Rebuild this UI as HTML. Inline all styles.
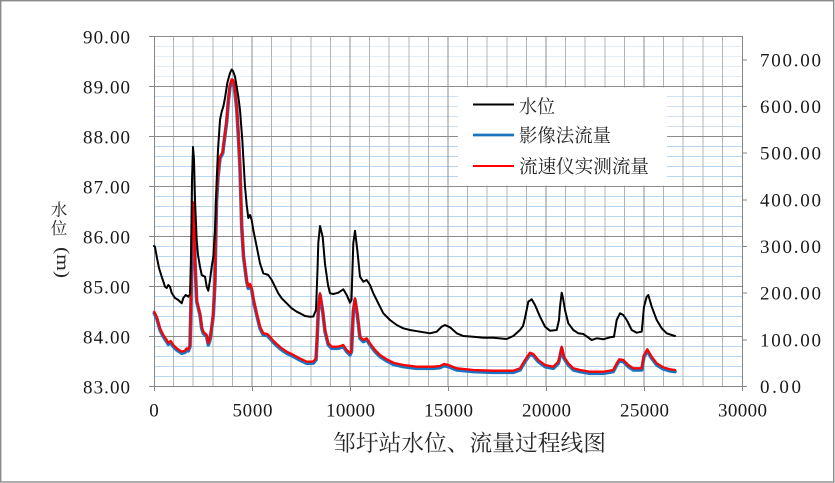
<!DOCTYPE html>
<html>
<head>
<meta charset="utf-8">
<style>
html,body{margin:0;padding:0;background:#fff;}
svg{display:block;}
.tl{font-family:"Liberation Serif","Noto Serif CJK SC",serif;font-size:19px;fill:#1a1a1a;}
.cj{font-family:"Liberation Serif","Noto Serif CJK SC",serif;fill:#262626;}
</style>
</head>
<body>
<svg width="835" height="483" viewBox="0 0 835 483" xmlns="http://www.w3.org/2000/svg">
<rect x="0" y="0" width="835" height="483" fill="#fff"/>
<rect x="0.7" y="0.7" width="833" height="481.3" fill="none" stroke="#8a8a8a" stroke-width="1.4"/>

<!-- minor horizontal grid (light blue) -->
<g stroke-width="1" shape-rendering="crispEdges">
<g stroke="#e3edf8">
<line x1="154" y1="46.5" x2="742" y2="46.5"/><line x1="154" y1="56.5" x2="742" y2="56.5"/><line x1="154" y1="66.5" x2="742" y2="66.5"/><line x1="154" y1="76.5" x2="742" y2="76.5"/>
</g>
<g stroke="#cfe1f2">
<line x1="154" y1="96.5" x2="742" y2="96.5"/><line x1="154" y1="106.5" x2="742" y2="106.5"/><line x1="154" y1="116.5" x2="742" y2="116.5"/><line x1="154" y1="126.5" x2="742" y2="126.5"/>
</g>
<g stroke="#b8d6f0">
<line x1="154" y1="146.5" x2="742" y2="146.5"/><line x1="154" y1="156.5" x2="742" y2="156.5"/><line x1="154" y1="166.5" x2="742" y2="166.5"/><line x1="154" y1="176.5" x2="742" y2="176.5"/>
<line x1="154" y1="196.5" x2="742" y2="196.5"/><line x1="154" y1="206.5" x2="742" y2="206.5"/><line x1="154" y1="216.5" x2="742" y2="216.5"/><line x1="154" y1="226.5" x2="742" y2="226.5"/>
<line x1="154" y1="246.5" x2="742" y2="246.5"/><line x1="154" y1="256.5" x2="742" y2="256.5"/><line x1="154" y1="266.5" x2="742" y2="266.5"/><line x1="154" y1="276.5" x2="742" y2="276.5"/>
<line x1="154" y1="296.5" x2="742" y2="296.5"/><line x1="154" y1="306.5" x2="742" y2="306.5"/><line x1="154" y1="316.5" x2="742" y2="316.5"/><line x1="154" y1="326.5" x2="742" y2="326.5"/>
<line x1="154" y1="346.5" x2="742" y2="346.5"/><line x1="154" y1="356.5" x2="742" y2="356.5"/><line x1="154" y1="366.5" x2="742" y2="366.5"/><line x1="154" y1="376.5" x2="742" y2="376.5"/>
</g>
</g>

<!-- vertical grid -->
<g stroke-width="1" shape-rendering="crispEdges">
<g stroke="#b4b4b4">
<line x1="173.6" y1="36" x2="173.6" y2="386"/><line x1="193.2" y1="36" x2="193.2" y2="386"/><line x1="212.8" y1="36" x2="212.8" y2="386"/><line x1="232.4" y1="36" x2="232.4" y2="386"/>
<line x1="271.6" y1="36" x2="271.6" y2="386"/><line x1="291.2" y1="36" x2="291.2" y2="386"/><line x1="310.8" y1="36" x2="310.8" y2="386"/><line x1="330.4" y1="36" x2="330.4" y2="386"/>
<line x1="369.6" y1="36" x2="369.6" y2="386"/><line x1="389.2" y1="36" x2="389.2" y2="386"/><line x1="408.8" y1="36" x2="408.8" y2="386"/><line x1="428.4" y1="36" x2="428.4" y2="386"/>
<line x1="467.6" y1="36" x2="467.6" y2="386"/><line x1="487.2" y1="36" x2="487.2" y2="386"/><line x1="506.8" y1="36" x2="506.8" y2="386"/><line x1="526.4" y1="36" x2="526.4" y2="386"/>
<line x1="565.6" y1="36" x2="565.6" y2="386"/><line x1="585.2" y1="36" x2="585.2" y2="386"/><line x1="604.8" y1="36" x2="604.8" y2="386"/><line x1="624.4" y1="36" x2="624.4" y2="386"/>
<line x1="663.6" y1="36" x2="663.6" y2="386"/><line x1="683.2" y1="36" x2="683.2" y2="386"/><line x1="702.8" y1="36" x2="702.8" y2="386"/><line x1="722.4" y1="36" x2="722.4" y2="386"/>
</g>
<g stroke="#8c8c8c">
<line x1="252" y1="36" x2="252" y2="386"/><line x1="350" y1="36" x2="350" y2="386"/><line x1="448" y1="36" x2="448" y2="386"/><line x1="546" y1="36" x2="546" y2="386"/><line x1="644" y1="36" x2="644" y2="386"/>
</g>
</g>

<!-- major horizontal grid -->
<g stroke="#8c8c8c" stroke-width="1" shape-rendering="crispEdges">
<line x1="154" y1="36.5" x2="742" y2="36.5"/><line x1="154" y1="86.5" x2="742" y2="86.5"/><line x1="154" y1="136.5" x2="742" y2="136.5"/><line x1="154" y1="186.5" x2="742" y2="186.5"/>
<line x1="154" y1="236.5" x2="742" y2="236.5"/><line x1="154" y1="286.5" x2="742" y2="286.5"/><line x1="154" y1="336.5" x2="742" y2="336.5"/>
</g>

<!-- axes -->
<g stroke="#868686" stroke-width="1" shape-rendering="crispEdges">
<line x1="154.5" y1="36" x2="154.5" y2="386"/>
<line x1="742.5" y1="36" x2="742.5" y2="386"/>
<line x1="149" y1="386.5" x2="747" y2="386.5"/>
<line x1="149" y1="36.5" x2="154" y2="36.5"/><line x1="149" y1="86.5" x2="154" y2="86.5"/><line x1="149" y1="136.5" x2="154" y2="136.5"/><line x1="149" y1="186.5" x2="154" y2="186.5"/>
<line x1="149" y1="236.5" x2="154" y2="236.5"/><line x1="149" y1="286.5" x2="154" y2="286.5"/><line x1="149" y1="336.5" x2="154" y2="336.5"/>
<line x1="742" y1="339.8" x2="747" y2="339.8"/><line x1="742" y1="293.2" x2="747" y2="293.2"/><line x1="742" y1="246.5" x2="747" y2="246.5"/><line x1="742" y1="199.8" x2="747" y2="199.8"/>
<line x1="742" y1="153.2" x2="747" y2="153.2"/><line x1="742" y1="106.5" x2="747" y2="106.5"/><line x1="742" y1="59.8" x2="747" y2="59.8"/>
<line x1="154.5" y1="386" x2="154.5" y2="391"/><line x1="252.5" y1="386" x2="252.5" y2="391"/><line x1="350.5" y1="386" x2="350.5" y2="391"/><line x1="448.5" y1="386" x2="448.5" y2="391"/>
<line x1="546.5" y1="386" x2="546.5" y2="391"/><line x1="644.5" y1="386" x2="644.5" y2="391"/><line x1="742.5" y1="386" x2="742.5" y2="391"/>
</g>

<!-- legend box -->
<rect x="458" y="87.5" width="209" height="98" fill="#ffffff"/>

<!-- series -->
<g fill="none" stroke-linejoin="round" stroke-linecap="round">
<path id="flow" transform="translate(0,1.6)" stroke="#1b74c2" stroke-width="3.6" d="M154.3,311.7 L156.7,316.7 L160,328.3 L163.3,335 L166.7,340 L168.3,342.7 L170.7,341 L173.3,345 L176.7,348.3 L181.7,351.7 L185,350.7 L186.7,348.3 L188.3,349.3 L190,345 L191,300 L192,240 L193,202 L194,215 L195,260 L196.7,300 L200,313.3 L201.7,326.7 L203.3,331.7 L206.7,335 L208.3,343.3 L210,338.3 L211.7,326.7 L213.3,313.3 L215,280 L215.5,250 L216.5,200 L218,175 L220,156.7 L222.7,151.7 L225,133 L226.7,120 L228.3,100 L230,85 L231.7,79.3 L233,80 L234.3,85 L236.7,106.7 L238.3,133.3 L240,166.7 L241.7,225 L243.5,255 L245,266.7 L246.7,280 L248.3,286.7 L250,284 L251.7,288.3 L253.3,298.3 L256.7,313.3 L260,326.7 L263.3,333.3 L267.3,334 L270,336.7 L273.3,340.7 L276.7,344 L281.7,348.3 L286.7,351.7 L291.7,354 L296.7,356.7 L300,358.5 L306.7,361.7 L313.3,361.5 L316,358.3 L317,340 L318.3,310 L320,293.3 L322.7,310 L325,330 L328.3,343.3 L331.7,346.7 L338.3,346.7 L343.3,345 L346.7,350 L350,353.3 L351.5,350 L353.3,310 L355,298.3 L357.3,313.3 L360,336.7 L363.3,340 L366.7,338.3 L370,343.3 L375,350 L380,355 L386.7,359.3 L393.3,362.7 L403.3,365 L416.7,366.7 L433.3,366.7 L440,366 L444,364 L448.3,365 L456.7,368.3 L473.3,370 L493.3,370.7 L513.3,370.7 L520,368.3 L525,360 L530,352.7 L533.3,354 L538.3,360 L545,365 L553.3,366.7 L558.3,361.7 L560,355 L561.7,346.7 L564,356.7 L568.3,363.3 L573.3,368.3 L580,370 L590,371.7 L603.3,371.7 L613.3,370 L616.7,363.3 L619.3,359.3 L623.3,360 L628.3,365 L633.3,368.3 L641.7,368.3 L644,355 L647.3,349.3 L651.7,356.7 L656.7,363.3 L663.3,367.3 L670,369.3 L675,370"/>
<path stroke="#ff0000" stroke-width="2.3" d="M154.3,311.7 L156.7,316.7 L160,328.3 L163.3,335 L166.7,340 L168.3,342.7 L170.7,341 L173.3,345 L176.7,348.3 L181.7,351.7 L185,350.7 L186.7,348.3 L188.3,349.3 L190,345 L191,300 L192,240 L193,202 L194,215 L195,260 L196.7,300 L200,313.3 L201.7,326.7 L203.3,331.7 L206.7,335 L208.3,343.3 L210,338.3 L211.7,326.7 L213.3,313.3 L215,280 L215.5,250 L216.5,200 L218,175 L220,156.7 L222.7,151.7 L225,133 L226.7,120 L228.3,100 L230,85 L231.7,79.3 L233,80 L234.3,85 L236.7,106.7 L238.3,133.3 L240,166.7 L241.7,225 L243.5,255 L245,266.7 L246.7,280 L248.3,286.7 L250,284 L251.7,288.3 L253.3,298.3 L256.7,313.3 L260,326.7 L263.3,333.3 L267.3,334 L270,336.7 L273.3,340.7 L276.7,344 L281.7,348.3 L286.7,351.7 L291.7,354 L296.7,356.7 L300,358.5 L306.7,361.7 L313.3,361.5 L316,358.3 L317,340 L318.3,310 L320,293.3 L322.7,310 L325,330 L328.3,343.3 L331.7,346.7 L338.3,346.7 L343.3,345 L346.7,350 L350,353.3 L351.5,350 L353.3,310 L355,298.3 L357.3,313.3 L360,336.7 L363.3,340 L366.7,338.3 L370,343.3 L375,350 L380,355 L386.7,359.3 L393.3,362.7 L403.3,365 L416.7,366.7 L433.3,366.7 L440,366 L444,364 L448.3,365 L456.7,368.3 L473.3,370 L493.3,370.7 L513.3,370.7 L520,368.3 L525,360 L530,352.7 L533.3,354 L538.3,360 L545,365 L553.3,366.7 L558.3,361.7 L560,355 L561.7,346.7 L564,356.7 L568.3,363.3 L573.3,368.3 L580,370 L590,371.7 L603.3,371.7 L613.3,370 L616.7,363.3 L619.3,359.3 L623.3,360 L628.3,365 L633.3,368.3 L641.7,368.3 L644,355 L647.3,349.3 L651.7,356.7 L656.7,363.3 L663.3,367.3 L670,369.3 L675,370"/>
<path stroke="#000000" stroke-width="2" d="M154,246 L155,247 L157,258 L159,268 L161.7,276.7 L163.5,282 L165,286.7 L166.7,288 L168.3,285 L170,286.7 L171.7,293 L175,298 L178.3,300 L181.7,303.3 L183.3,298 L185.7,295 L188.3,296.7 L190,294 L191,260 L192,180 L193,147 L194,160 L195,200 L196.7,240 L198,255 L200,266.7 L201.7,275 L203.5,276 L205,276.7 L206.7,286.7 L208.3,290.7 L210,280 L211.7,266.7 L213.3,256.7 L215,230 L216.7,180 L218,150 L220,120 L221.7,111.7 L223.3,106.7 L225,98 L227.3,83 L230,73 L231.7,69.5 L233,71 L235,76.7 L236.7,86.7 L238.5,98 L240,110 L242.3,140 L245,186.7 L246.7,205 L248.3,218 L250,215 L251.7,220 L253.3,230 L256.7,246.7 L260,263.3 L263.3,273.3 L268.3,275 L271.7,280 L275,286.7 L278.3,293.3 L281.7,298.3 L286.7,303.3 L291.7,308.3 L296.7,311.7 L300,313.3 L305,316 L310,316.7 L313.3,316.5 L316,310 L317.5,270 L318.3,243 L320,226 L322.7,237 L325,264 L328,285 L330,293.3 L333.3,294 L338.3,292.7 L343.3,289.3 L346.7,295 L350,302.7 L351.5,300 L353.3,243.3 L355,230.7 L357.3,250 L360,276.7 L363.3,281.7 L366.7,280 L370,285 L373.3,293.3 L378.3,303.3 L383.3,313.3 L390,320 L396.7,325 L403.3,328.3 L410,330 L420,331.7 L430,333.3 L436.7,331.7 L441.7,326.7 L445,325 L450,327.3 L456.7,333.3 L463.3,336 L473.3,336.7 L483.3,337.7 L493.3,337.7 L506.7,339 L513.3,336 L520,330 L523,326 L525,318 L528.3,301.7 L531.7,299.3 L535,305 L540,316.7 L545,326.7 L550,330.7 L556.7,330 L559,320 L560,306.7 L561.7,292.7 L563,298 L565,310 L568.3,323.3 L573.3,330 L578.3,333.3 L583.3,334 L591.7,340 L596.7,338.3 L603.3,339.3 L610,337.3 L614,336.7 L616.7,320 L620,313.3 L623.3,315 L626.7,320 L631.7,330 L636.7,332.7 L641.7,331.7 L644,306.7 L646.7,296.7 L648.3,295 L651.7,306.7 L656.7,320 L661.7,328.3 L666.7,333.3 L671.7,335 L675,336"/>
</g>

<!-- legend -->
<line x1="473" y1="104.5" x2="514" y2="104.5" stroke="#000" stroke-width="2"/>
<line x1="473" y1="135" x2="514" y2="135" stroke="#1b74c2" stroke-width="2.8"/>
<line x1="473" y1="166" x2="514" y2="166" stroke="#ff0000" stroke-width="2"/>
<text class="cj" x="519" y="113" font-size="18.5" textLength="36" lengthAdjust="spacingAndGlyphs">水位</text>
<text class="cj" x="519" y="142" font-size="18.5" textLength="92" lengthAdjust="spacingAndGlyphs">影像法流量</text>
<text class="cj" x="519" y="173" font-size="18.5" textLength="130" lengthAdjust="spacingAndGlyphs">流速仪实测流量</text>

<!-- left axis labels -->
<g class="tl" text-anchor="end">
<text x="130" y="43.5" textLength="47" lengthAdjust="spacing">90.00</text>
<text x="130" y="93.5" textLength="47" lengthAdjust="spacing">89.00</text>
<text x="130" y="143.5" textLength="47" lengthAdjust="spacing">88.00</text>
<text x="130" y="193.5" textLength="47" lengthAdjust="spacing">87.00</text>
<text x="130" y="243.5" textLength="47" lengthAdjust="spacing">86.00</text>
<text x="130" y="293.5" textLength="47" lengthAdjust="spacing">85.00</text>
<text x="130" y="343.5" textLength="47" lengthAdjust="spacing">84.00</text>
<text x="130" y="393.5" textLength="47" lengthAdjust="spacing">83.00</text>
</g>

<!-- right axis labels -->
<g class="tl">
<text x="760" y="393" textLength="41" lengthAdjust="spacing">0.00</text>
<text x="760" y="346.3" textLength="61" lengthAdjust="spacing">100.00</text>
<text x="760" y="299.7" textLength="61" lengthAdjust="spacing">200.00</text>
<text x="760" y="253" textLength="61" lengthAdjust="spacing">300.00</text>
<text x="760" y="206.3" textLength="61" lengthAdjust="spacing">400.00</text>
<text x="760" y="159.7" textLength="61" lengthAdjust="spacing">500.00</text>
<text x="760" y="113" textLength="61" lengthAdjust="spacing">600.00</text>
<text x="760" y="66.3" textLength="61" lengthAdjust="spacing">700.00</text>
</g>

<!-- x axis labels -->
<g class="tl" text-anchor="middle">
<text x="154" y="416.5">0</text>
<text x="252.5" y="416.5" textLength="40" lengthAdjust="spacing">5000</text>
<text x="350.5" y="416.5" textLength="49" lengthAdjust="spacing">10000</text>
<text x="448.5" y="416.5" textLength="49" lengthAdjust="spacing">15000</text>
<text x="546.5" y="416.5" textLength="49" lengthAdjust="spacing">20000</text>
<text x="644.5" y="416.5" textLength="49" lengthAdjust="spacing">25000</text>
<text x="742.5" y="416.5" textLength="49" lengthAdjust="spacing">30000</text>
</g>

<!-- y axis title -->
<text class="cj" x="59" y="215.5" font-size="16.5" text-anchor="middle">水</text>
<text class="cj" x="59" y="234" font-size="16.5" text-anchor="middle">位</text>
<text class="cj" transform="translate(57,247) rotate(90)" font-size="18" textLength="31" lengthAdjust="spacingAndGlyphs" style="font-family:'Liberation Serif',serif;">(m)</text>

<!-- chart title -->
<text class="cj" x="333" y="451" font-size="22.5" textLength="273" lengthAdjust="spacingAndGlyphs">邹圩站水位、流量过程线图</text>
</svg>
</body>
</html>
